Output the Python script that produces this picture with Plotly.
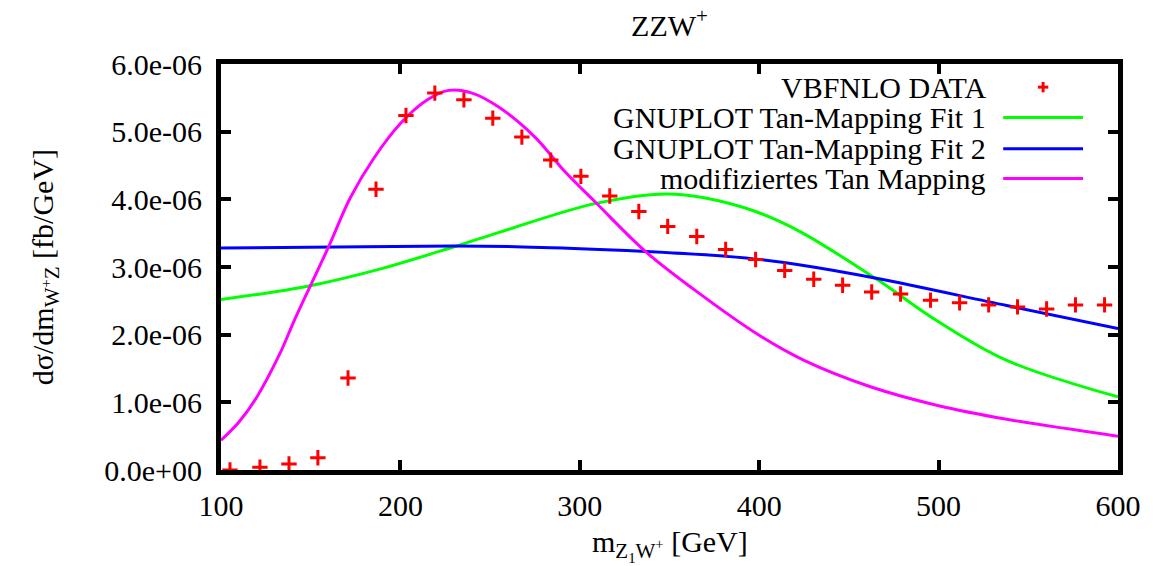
import plotly.graph_objects as go

# VBFNLO histogram points
data_x = [105, 121.7, 137.9, 154, 170.8, 186.4, 203.1, 219.2, 235.4, 251.5, 267.7,
          283.8, 300.6, 316.7, 332.9, 349, 365.2, 381.3, 398, 414.2, 430.4, 446.5,
          462.7, 478.8, 495.5, 511.7, 527.9, 544, 560.2, 576.3, 592.5]
data_y = [0.0, 0.04, 0.09, 0.18, 1.36, 4.15, 5.24, 5.57, 5.47, 5.20, 4.92,
          4.58, 4.34, 4.05, 3.82, 3.60, 3.45, 3.26, 3.11, 2.95, 2.82, 2.73,
          2.63, 2.60, 2.51, 2.47, 2.44, 2.41, 2.38, 2.44, 2.44]

# Tan-mapping fit 1
fit1_x = [100, 149, 190, 230, 256, 309, 348, 370, 398, 423, 466, 500, 538, 600]
fit1_y = [2.52, 2.72, 2.98, 3.30, 3.52, 3.94, 4.08, 4.02, 3.82, 3.52, 2.81, 2.19, 1.62, 1.08]

# Tan-mapping fit 2
fit2_x = [100, 180, 230, 264, 311, 337, 370, 397, 423, 466, 538, 600]
fit2_y = [3.28, 3.30, 3.31, 3.30, 3.26, 3.23, 3.18, 3.12, 3.03, 2.83, 2.43, 2.09]

# modified tan mapping
mod_x = [100, 110, 120, 133, 141, 160, 172, 185, 200, 215, 227, 240, 255, 275,
         291, 309, 337, 363, 400, 425, 462, 500, 538, 600]
mod_y = [0.44, 0.71, 1.08, 1.73, 2.22, 3.30, 4.02, 4.60, 5.12, 5.47, 5.61, 5.57, 5.36, 4.92,
         4.43, 3.95, 3.22, 2.68, 1.99, 1.62, 1.23, 0.95, 0.75, 0.50]

scale = 1e-6
y_tickvals = [0, 1e-6, 2e-6, 3e-6, 4e-6, 5e-6, 6e-6]
y_ticktext = ["0.0e+00", "1.0e-06", "2.0e-06", "3.0e-06", "4.0e-06", "5.0e-06", "6.0e-06"]
x_tickvals = [100, 200, 300, 400, 500, 600]
x_ticktext = ["100", "200", "300", "400", "500", "600"]

legend_labels = ["VBFNLO DATA", "GNUPLOT Tan-Mapping Fit 1",
                 "GNUPLOT Tan-Mapping Fit 2", "modifiziertes Tan Mapping"]

RED = "#ff0000"
GREEN = "#00ff00"
BLUE = "#0000ff"
MAGENTA = "#ff00ff"
FONT = "serif"
FS = 30

fig = go.Figure()

def scaled(vals):
    return [v * scale for v in vals]

fig.add_trace(go.Scatter(x=fit1_x, y=scaled(fit1_y), mode="lines", line_shape="spline",
                         line=dict(color=GREEN, width=3), showlegend=False))
fig.add_trace(go.Scatter(x=fit2_x, y=scaled(fit2_y), mode="lines", line_shape="spline",
                         line=dict(color=BLUE, width=3), showlegend=False))
fig.add_trace(go.Scatter(x=mod_x, y=scaled(mod_y), mode="lines", line_shape="spline",
                         line=dict(color=MAGENTA, width=3), showlegend=False))
fig.add_trace(go.Scatter(x=data_x, y=scaled(data_y), mode="markers",
                         marker=dict(symbol="cross-thin", size=11,
                                     line=dict(color=RED, width=3)),
                         showlegend=False, cliponaxis=True))

axis_common = dict(
    showline=True, linecolor="black", linewidth=5, mirror="ticks",
    ticks="inside", ticklen=10, tickwidth=4, tickcolor="black",
    showgrid=False, zeroline=False,
    tickfont=dict(family=FONT, size=FS, color="black"),
)

fig.update_xaxes(range=[100, 600], tickvals=x_tickvals, ticktext=x_ticktext,
                 ticklabelstandoff=5, **axis_common)
fig.update_yaxes(range=[0, 6e-6], tickvals=y_tickvals, ticktext=y_ticktext,
                 ticklabelstandoff=8, **axis_common)

# hand-built key in the top right corner: label text right-aligned, sample to its right
row_y = [0.943, 0.868, 0.791, 0.718]
sample_x0, sample_x1 = 0.872, 0.961
text_x = 0.855
annotations = []
shapes = []
for lbl, ry in zip(legend_labels, row_y):
    annotations.append(dict(text=lbl, x=text_x, y=ry, xref="paper", yref="paper",
                            xanchor="right", yanchor="middle", showarrow=False,
                            font=dict(family=FONT, size=FS, color="black")))
for color, ry in zip([GREEN, BLUE, MAGENTA], row_y[1:]):
    shapes.append(dict(type="line", xref="paper", yref="paper",
                       x0=sample_x0, x1=sample_x1, y0=ry, y1=ry,
                       line=dict(color=color, width=3)))
cx = (sample_x0 + sample_x1) / 2
shapes.append(dict(type="line", xref="paper", yref="paper",
                   x0=cx - 0.0058, x1=cx + 0.0058, y0=row_y[0], y1=row_y[0],
                   line=dict(color=RED, width=3)))
shapes.append(dict(type="line", xref="paper", yref="paper",
                   x0=cx, x1=cx, y0=row_y[0] - 0.0128, y1=row_y[0] + 0.0128,
                   line=dict(color=RED, width=3)))

# axis titles
annotations.append(dict(text="m<sub>Z<sub>1</sub>W<sup>+</sup></sub> [GeV]",
                        x=0.5, y=-0.185, xref="paper", yref="paper",
                        xanchor="center", yanchor="middle", showarrow=False,
                        font=dict(family=FONT, size=FS, color="black")))
annotations.append(dict(text="dσ/dm<sub>W<sup>+</sup>Z</sub> [fb/GeV]",
                        x=-0.196, y=0.5, xref="paper", yref="paper", textangle=-90,
                        xanchor="center", yanchor="middle", showarrow=False,
                        font=dict(family=FONT, size=FS, color="black")))

fig.update_layout(
    width=1153, height=566,
    margin=dict(l=221, r=35, t=64, b=96),
    paper_bgcolor="white", plot_bgcolor="white",
    font=dict(family=FONT),
    title=dict(text="ZZW<sup>+</sup>", x=0.5, xref="paper", y=0.955, yanchor="middle",
               font=dict(family=FONT, size=FS, color="black")),
    annotations=annotations, shapes=shapes,
    showlegend=False,
)

fig.write_html("out.html")
